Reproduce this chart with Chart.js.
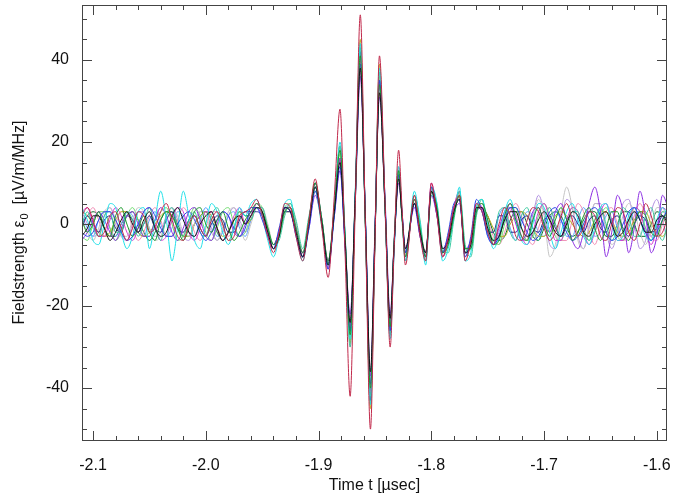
<!DOCTYPE html>
<html>
<head>
<meta charset="utf-8">
<script src="https://cdn.jsdelivr.net/npm/chart.js@4.4.1/dist/chart.umd.min.js"></script>
<style>
  body { margin: 0; background: #fff; }
  canvas { display: block; }
</style>
</head>
<body>
<canvas id="pulseChart" width="674" height="495"></canvas>
<script>
// sample times in microseconds (denser where the pulse is)
const times = [
  -2.110, -2.105, -2.100, -2.095, -2.090, -2.085, -2.080, -2.075, -2.070, -2.065,
  -2.060, -2.055, -2.050, -2.045, -2.040, -2.035, -2.030, -2.025, -2.020, -2.015,
  -2.010, -2.005, -2.000, -1.995, -1.990, -1.985, -1.980, -1.975, -1.970, -1.965,
  -1.960, -1.955, -1.950, -1.945, -1.940, -1.935, -1.930, -1.925, -1.920,
  -1.914, -1.9085, -1.903, -1.897, -1.8915, -1.886, -1.881, -1.8765, -1.872, -1.8675,
  -1.863, -1.8585, -1.854, -1.850, -1.846, -1.841, -1.8365, -1.833, -1.829, -1.826, -1.823,
  -1.815, -1.810, -1.805, -1.800, -1.795, -1.790, -1.785, -1.780, -1.775, -1.770,
  -1.765, -1.760, -1.755, -1.750, -1.745, -1.740, -1.735, -1.730, -1.725, -1.720,
  -1.715, -1.710, -1.705, -1.700, -1.695, -1.690, -1.685, -1.680, -1.675, -1.670,
  -1.665, -1.660, -1.655, -1.650, -1.645, -1.640, -1.635, -1.630, -1.625, -1.620,
  -1.615, -1.610, -1.605, -1.600, -1.595, -1.590
];

// field strength traces, µV/m/MHz
const traceCrimson = [
  2, 4, 1, -3, -2, 2, 3, -1, -4, -1,
  3, 2, -2, -1, 3, 5, 1, -3, -4, 0,
  2, -1, -3, 1, 3, 0, -4, -3, 2, 3,
  4, 6, 2, -3, -7, -2, 5, 4, -3,
  -9, 1, 11, -1, -13, 7, 28, -7, -42, 4, 51, 0, -50, -5, 41, 5, -30, -6, 18, 4, -10,
  7, -3, -9, 10, 2, -8, -3, 4, 7, -9,
  -4, 5, 3, -2, -5, 0, 4, 2, -3, -4,
  1, 4, 3, -1, -4, -2, 2, 5, 1, -3,
  -1, 3, 2, -3, -4, 0, 4, 3, -2, -4,
  0, 5, 2, -3, -2, 2
];
const traceBlack = [
  -3, -1, 2, 2, -1, -4, -2, 1, 3, 0,
  -2, 1, 3, -1, -3, -2, 2, 4, 1, -2,
  -3, 0, 2, 3, -1, -4, -2, 1, 2, 0,
  2, 4, 3, -2, -6, -3, 4, 3, -2,
  -8, 0, 9, 0, -10, 3, 15, -4, -24, 7, 38, 1, -36, -2, 32, 4, -23, -5, 11, 2, -6,
  5, -2, -7, 8, 3, -6, -4, 3, 6, -7,
  -5, 4, 4, -1, -4, -3, 1, 3, 3, -1,
  -3, -2, 1, 3, 1, -2, -3, 0, 3, 2,
  -2, -3, 0, 2, 3, 0, -3, -2, 1, 3,
  1, -2, -2, 1, 2, 0
];
const traceGreen = [
  1, -2, 0, 3, -1, -3, 2, 4, 0, -3,
  -1, 2, -2, -4, 1, 3, 2, -1, -4, -1,
  3, 4, 0, -2, 1, 3, -1, -4, -2, 1,
  3, 5, 3, -1, -5, -3, 3, 4, -1,
  -7, 1, 10, 1, -9, 4, 18, -3, -27, 5, 41, 0, -40, -4, 34, 4, -25, -5, 13, 2, -8,
  6, -1, -8, 8, 4, -7, -5, 2, 7, -6,
  -6, 3, 5, 1, -5, -4, 2, 5, 1, -3,
  -4, 1, 4, 0, -3, 1, 4, 1, -4, -2,
  2, 4, -1, -4, -1, 3, 3, -2, -4, 0,
  3, 2, -2, -3, 1, 3
];
const traceBlue = [
  -2, -3, -2, 1, 3, 3, 1, -2, -4, -3,
  0, 3, 4, 2, -1, -3, -3, 0, 2, 3,
  1, -2, -4, -2, 1, 3, 2, -1, -3, -1,
  4, 4, 1, -3, -6, -1, 4, 3, -3,
  -8, -1, 8, 0, -11, 2, 14, -6, -26, 6, 39, 2, -39, -3, 35, 5, -26, -6, 12, 3, -7,
  5, -3, -8, 9, 3, -7, -2, 5, 6, -8,
  -3, 6, 3, -3, -5, -3, 1, 4, 4, 1,
  -2, -4, -3, 0, 3, 4, 1, -2, -4, -3,
  0, 3, 4, 2, -2, -4, -3, 0, 3, 4,
  1, -2, -4, -2, 1, 4
];
const traceCyan = [
  4, 1, -4, -5, 0, 5, 4, -2, -6, -3,
  3, 4, -6, 1, 8, 1, -9, -1, 8, 2,
  -4, -6, 0, 5, 3, -2, -5, -1, 4, 2,
  5, 6, 2, -4, -8, -3, 5, 6, -2,
  -9, 0, 9, 1, -10, 3, 20, -2, -28, 8, 44, 1, -44, -4, 38, 5, -28, -7, 14, 3, -9,
  8, 0, -10, 9, 5, -9, -6, 2, 9, -9,
  -7, 4, 6, 0, -6, -3, 3, 6, 1, -4,
  -5, 0, 5, 4, -2, -6, -2, 3, 5, 1,
  -3, -5, -1, 4, 5, 0, -4, -3, 2, 4,
  1, -3, -4, 1, 4, 2
];
const traceTurquoise = [
  0, 3, -1, -3, 2, 3, -2, -2, 3, 1,
  -3, 0, 4, -1, -4, 2, 4, -1, -3, 1,
  3, -2, -3, 2, 4, 0, -4, -1, 3, 2,
  1, 4, 4, -1, -5, -4, 2, 5, 1,
  -6, 2, 8, -1, -10, 5, 19, -4, -30, 6, 43, -1, -42, -3, 37, 3, -27, -4, 13, 1, -9,
  7, 1, -9, 7, 5, -6, -7, 1, 8, -5,
  -8, 2, 6, -2, -4, 3, 4, -2, -4, 2,
  4, -1, -4, 1, 4, 0, -3, -2, 3, 3,
  -2, -4, 1, 4, 0, -4, -1, 4, 2, -3,
  -3, 2, 4, -1, -4, 1
];
const tracePurple = [
  -4, -2, 1, 3, 1, -2, -4, -1, 2, 3,
  0, -3, -3, 1, 4, 2, -2, -4, -1, 3,
  4, 1, -3, -4, 0, 3, 2, -2, -3, 0,
  3, 4, 2, -2, -5, -2, 4, 3, -2,
  -7, -1, 7, 0, -9, 2, 13, -5, -22, 5, 36, 2, -37, -1, 31, 6, -22, -5, 10, 3, -6,
  4, -3, -7, 7, 2, -6, -3, 3, 5, -6,
  -4, 3, 4, -2, -5, -1, 3, 4, 0, -4,
  -2, 3, 4, 0, -2, 3, 5, 1, -4, -6,
  -2, 5, 9, 3, -8, -2, 7, 3, -7, -1,
  8, 2, -7, -3, 7, 4
];
const traceMagenta = [
  3, 4, 0, -3, -3, 1, 4, 2, -2, -4,
  -1, 3, 4, 0, -4, -3, 1, 4, 3, -2,
  -4, -1, 3, 3, -1, -4, -2, 2, 4, 0,
  2, 5, 3, -2, -6, -2, 4, 4, -1,
  -8, 1, 9, 1, -11, 4, 16, -3, -25, 6, 40, 0, -41, -3, 34, 3, -25, -4, 12, 2, -8,
  6, -2, -8, 10, 3, -8, -4, 4, 8, -7,
  -5, 5, 4, -2, -5, -3, 2, 5, 2, -3,
  -5, -2, 3, 5, 1, -4, -4, 1, 4, 3,
  -2, -5, -2, 3, 5, 1, -4, -4, 1, 4,
  3, -2, -5, -1, 4, 3
];
const traceNavy = [
  -1, 2, 0, -2, 1, 2, -1, -2, 2, 1,
  -2, 0, 2, -1, -2, 1, 3, -1, -2, 1,
  2, -1, -3, 0, 2, 1, -2, -2, 1, 3,
  3, 3, 2, -2, -5, -2, 3, 3, -2,
  -8, 0, 10, 0, -10, 3, 16, -4, -26, 6, 42, 1, -43, -3, 35, 4, -26, -5, 12, 2, -7,
  5, -2, -7, 8, 2, -7, -3, 4, 6, -7,
  -4, 4, 3, -2, -2, 2, 2, -2, -2, 1,
  2, -1, -2, 1, 2, -1, -3, 1, 2, 0,
  -2, 1, 2, -1, -2, 1, 2, -1, -3, 0,
  2, 1, -2, -1, 2, 1
];
const traceGrey = [
  1, -2, -4, -1, 3, 4, 0, -3, -3, 1,
  4, 3, -1, -4, -3, 1, 4, 2, -2, -3,
  0, 3, 2, -2, -4, -1, 3, 4, 0, -4,
  0, 4, 4, 0, -5, -3, 3, 4, 0,
  -7, 1, 8, 0, -9, 3, 15, -3, -24, 5, 37, 1, -38, -2, 32, 4, -24, -4, 11, 2, -6,
  5, -1, -7, 8, 3, -6, -4, 3, 6, -6,
  -5, 3, 5, 0, -5, -3, 2, 5, 2, -3,
  -4, 1, 6, 2, -8, -5, 3, 9, 4, -4,
  -6, 0, 5, 4, -1, -5, -3, 2, 5, 3,
  -2, -5, -1, 4, 4, -1
];
const traceOlive = [
  3, 2, 0, -2, -3, -2, 1, 3, 3, 1,
  -2, -3, -2, 0, 2, 3, 2, -1, -3, -3,
  0, 2, 3, 2, -1, -3, -2, 1, 3, 0,
  1, 4, 3, -1, -5, -2, 3, 3, -1,
  -7, 0, 9, 1, -10, 4, 19, -3, -29, 6, 45, 1, -45, -4, 39, 4, -27, -5, 13, 2, -8,
  6, -1, -7, 9, 4, -7, -4, 3, 7, -6,
  -5, 3, 4, 2, -1, -3, -3, 0, 2, 3,
  2, -1, -3, -3, -1, 2, 3, 2, 0, -2,
  -3, -2, 1, 3, 3, 1, -2, -3, -2, 1,
  3, 3, 0, -2, -3, -1
];
const traceLightGreen = [
  -3, -4, 0, 3, 3, -1, -4, -2, 2, 4,
  1, -3, -3, 1, 3, 4, 0, -4, -3, 1,
  4, 2, -2, -4, -1, 3, 4, 0, -3, -2,
  2, 5, 4, -1, -6, -3, 4, 5, 0,
  -8, 1, 10, 0, -10, 4, 17, -4, -27, 6, 42, 0, -42, -3, 36, 4, -26, -5, 12, 2, -8,
  7, 0, -8, 8, 4, -8, -5, 2, 8, -7,
  -6, 4, 6, 0, -4, -5, 0, 4, 4, -1,
  -4, -3, 2, 5, 2, -3, -4, 0, 4, 3,
  -1, -4, -2, 2, 4, 1, -3, -4, 0, 4,
  3, -1, -4, -1, 3, 3
];
const tracePink = [
  -1, 2, 4, 1, -3, -3, 0, 3, 3, -1,
  -4, -2, 2, 4, 1, -3, -3, 1, 4, 2,
  -2, -4, -1, 3, 3, -1, -3, -1, 2, 3,
  2, 5, 3, -2, -6, -2, 4, 4, -2,
  -8, 1, 10, 0, -11, 4, 19, -4, -30, 6, 43, 0, -44, -4, 37, 4, -27, -5, 14, 3, -9,
  6, -2, -9, 9, 3, -8, -4, 4, 8, -8,
  -5, 4, 5, 1, -3, -5, -2, 3, 5, 2,
  -3, -5, -1, 3, 4, 0, -4, -4, 1, 5,
  3, -2, -5, -1, 3, 4, 0, -4, -3, 2,
  5, 2, -3, -4, 0, 4
];
const traceSky = [
  2, -1, -3, 1, 3, -1, -3, 0, 3, 2,
  -2, -3, 1, 3, 0, -3, -1, 3, 2, -2,
  -3, 1, 4, 1, -3, -2, 2, 3, -1, -3,
  1, 4, 3, -2, -6, -2, 4, 4, -1,
  -7, 0, 9, 1, -10, 3, 16, -4, -26, 6, 40, 1, -40, -3, 34, 4, -25, -5, 12, 2, -7,
  5, -2, -8, 9, 3, -7, -4, 3, 7, -7,
  -5, 4, 4, -3, -4, 2, 4, -1, -4, 0,
  3, 2, -2, -3, 1, 3, 1, -3, -3, 1,
  4, 1, -3, -2, 2, 3, -1, -4, -1, 3,
  3, -1, -3, 0, 3, 2
];
const traceDarkGreen = [
  0, 2, 3, 2, -1, -3, -3, 0, 2, 3,
  1, -2, -4, -2, 1, 3, 3, 0, -3, -3,
  0, 2, 3, 1, -2, -4, -2, 1, 3, 2,
  2, 4, 3, -2, -6, -3, 4, 4, -2,
  -8, 0, 9, 0, -10, 3, 16, -4, -25, 7, 40, 1, -41, -3, 34, 4, -25, -5, 12, 2, -7,
  6, -2, -8, 9, 3, -7, -4, 3, 7, -7,
  -5, 4, 4, 2, -2, -4, -3, 1, 3, 3,
  0, -3, -4, -1, 2, 3, 2, -1, -3, -2,
  1, 3, 3, 0, -3, -3, 0, 3, 3, 0,
  -3, -3, 0, 3, 2, -1
];
const traceLavender = [
  3, 0, -3, -2, 2, 4, 1, -3, -4, 0,
  3, 3, -1, -3, -2, 2, 4, 1, -3, -4,
  0, 3, 3, -1, -4, -2, 2, 4, 1, -2,
  1, 5, 3, -2, -5, -3, 3, 5, 0,
  -7, 1, 9, 0, -10, 4, 18, -3, -27, 6, 42, 0, -42, -4, 36, 4, -26, -5, 13, 2, -8,
  6, -1, -8, 9, 4, -7, -5, 2, 7, -6,
  -6, 3, 5, 0, -5, -2, 3, 5, 1, -4,
  -4, 2, 7, 3, -5, -6, 1, 6, 4, -3,
  -6, -1, 5, 5, -2, -6, -2, 5, 6, 0,
  -6, -4, 3, 6, 1, -5
];

const traces = [
  traceCrimson, traceBlack, traceGreen, traceBlue, traceCyan, traceTurquoise,
  tracePurple, traceMagenta, traceNavy, traceGrey, traceOlive, traceLightGreen,
  tracePink, traceSky, traceDarkGreen, traceLavender
];
const traceColors = [
  "#c0284a", "#111111", "#1a9a2a", "#2846e6", "#1fe0e8", "#3cc9a0",
  "#8a2be2", "#d43cd4", "#222a8c", "#c4c4c4", "#b8b020", "#6fdc6f",
  "#f08cb4", "#5aa0ff", "#0a6a2a", "#b090e0"
];

const xTickValues = [-2.1, -2.0, -1.9, -1.8, -1.7, -1.6];
const xMinorTicks = [-2.08, -2.06, -2.04, -2.02, -1.98, -1.96, -1.94, -1.92, -1.88, -1.86,
                     -1.84, -1.82, -1.78, -1.76, -1.74, -1.72, -1.68, -1.66, -1.64, -1.62];
const yTickValues = [-40, -20, 0, 20, 40];
const yMinorTicks = [-50, -45, -35, -30, -25, -15, -10, -5, 5, 10, 15, 25, 30, 35, 45, 50];

const FONT = '"Liberation Sans", Arial, Helvetica, sans-serif';

const datasets = traces.map((vals, i) => ({
    data: times.map((t, j) => ({ x: t, y: vals[j] })),
    borderColor: traceColors[i],
    borderWidth: 1,
    pointRadius: 0,
    fill: false,
    cubicInterpolationMode: "monotone"
}));

// no extra room for edge labels, the box is fixed
function noPad(s) {
    s.paddingTop = 0;
    s.paddingBottom = 0;
    s.paddingLeft = 0;
    s.paddingRight = 0;
}

// box, inward ticks and the axis titles (IDL look)
const frame = {
    id: "frame",
    afterDraw(chart) {
        const { ctx, chartArea: a, scales } = chart;
        const x = scales.x, y = scales.y;
        ctx.save();
        ctx.strokeStyle = "#444";
        ctx.lineWidth = 1;
        ctx.strokeRect(a.left + 0.5, a.top + 0.5, a.right - a.left - 1, a.bottom - a.top - 1);
        ctx.beginPath();
        const xTick = (v, len) => {
            const p = Math.round(x.getPixelForValue(v)) + 0.5;
            ctx.moveTo(p, a.bottom); ctx.lineTo(p, a.bottom - len);
            ctx.moveTo(p, a.top); ctx.lineTo(p, a.top + len);
        };
        const yTick = (v, len) => {
            const p = Math.round(y.getPixelForValue(v)) + 0.5;
            ctx.moveTo(a.left, p); ctx.lineTo(a.left + len, p);
            ctx.moveTo(a.right, p); ctx.lineTo(a.right - len, p);
        };
        xTickValues.forEach(v => xTick(v, 10));
        xMinorTicks.forEach(v => xTick(v, 5));
        yTickValues.forEach(v => yTick(v, 10));
        yMinorTicks.forEach(v => yTick(v, 5));
        ctx.stroke();

        ctx.fillStyle = "#111";
        ctx.font = "16px " + FONT;
        ctx.textAlign = "center";
        ctx.textBaseline = "alphabetic";
        ctx.fillText("Time t [µsec]", (a.left + a.right) / 2, 490);

        // rotated y title with subscript
        const p1 = "Fieldstrength ε", p2 = "0", p3 = "  [µV/m/MHz]";
        ctx.translate(24, (a.top + a.bottom) / 2);
        ctx.rotate(-Math.PI / 2);
        ctx.textAlign = "left";
        ctx.font = "16px " + FONT;
        const w1 = ctx.measureText(p1).width, w3 = ctx.measureText(p3).width;
        ctx.font = "11px " + FONT;
        const w2 = ctx.measureText(p2).width;
        const sx = -(w1 + w2 + w3) / 2;
        ctx.font = "16px " + FONT;
        ctx.fillText(p1, sx, 0);
        ctx.font = "11px " + FONT;
        ctx.fillText(p2, sx + w1 + 1, 4);
        ctx.font = "16px " + FONT;
        ctx.fillText(p3, sx + w1 + w2 + 1, 0);
        ctx.restore();
    }
};

new Chart(document.getElementById("pulseChart"), {
    type: "line",
    data: { datasets: datasets },
    options: {
        responsive: false,
        animation: false,
        events: [],
        layout: { padding: { top: 5, right: 7, left: 0, bottom: 0 } },
        plugins: { legend: { display: false }, tooltip: { enabled: false } },
        scales: {
            x: {
                type: "linear",
                min: -2.1098,
                max: -1.591,
                grid: { display: false, drawTicks: false },
                border: { display: false },
                afterBuildTicks: s => { s.ticks = xTickValues.map(v => ({ value: v })); },
                afterFit: s => { s.height = 54; noPad(s); },
                ticks: {
                    padding: 15,
                    color: "#111",
                    autoSkip: false,
                    maxRotation: 0,
                    font: { family: FONT, size: 16 },
                    callback: v => v.toFixed(1)
                }
            },
            y: {
                type: "linear",
                min: -52.9,
                max: 53.4,
                grid: { display: false, drawTicks: false },
                border: { display: false },
                afterBuildTicks: s => { s.ticks = yTickValues.map(v => ({ value: v })); },
                afterFit: s => { s.width = 82; noPad(s); },
                ticks: {
                    padding: 13,
                    color: "#111",
                    font: { family: FONT, size: 16 },
                    callback: v => String(v)
                }
            }
        }
    },
    plugins: [frame]
});
</script>
</body>
</html>
